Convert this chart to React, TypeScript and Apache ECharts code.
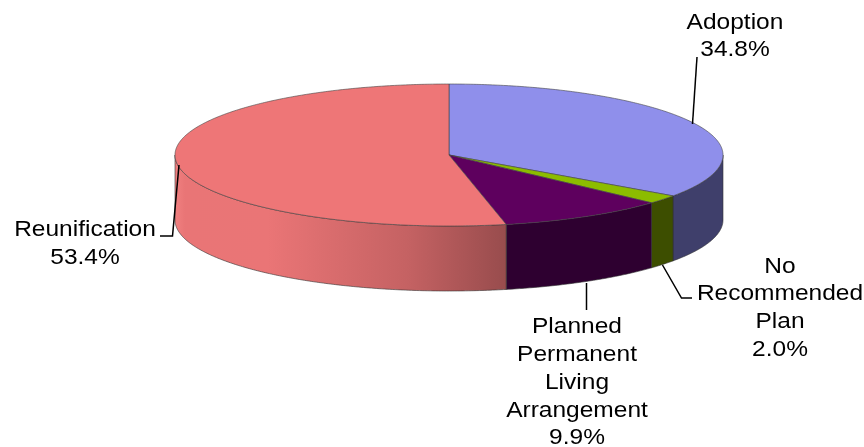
import React, { useEffect, useRef } from "react";
import * as echarts from "echarts";

const categories = ["Adoption", "No Recommended Plan", "Planned Permanent Living Arrangement", "Reunification"];
const values = [34.8, 2.0, 9.9, 53.4];
const labelLines = [["Adoption"], ["No", "Recommended", "Plan"], ["Planned", "Permanent", "Living", "Arrangement"], ["Reunification"]];
const topColors = ["#8F8FEB", "#8CBC00", "#5E005E", "#EE7677"];
const sideColors = ["#3F3F6B", "#3D4E00", "#2E0030", "#EE7677"];
const labelAnchors = [[735, 21], [780, 265], [577, 325.5], [85, 228.5]];
const leaders = [
  [[697, 57], [692.5, 124]],
  [[662.5, 265], [681.5, 298], [692, 298]],
  [[586.5, 283], [586.5, 310]],
  [[160, 236], [172.5, 236], [179, 165]],
];

const CX = 449, CY = 155, RX = 274, RY = 71, DEPTH = 65;
const FONT = '22.5px "Liberation Sans", Arial, sans-serif';
const LINE_H = 27.8;
const TEXT_STRETCH = 1.09;
const total = values.reduce((a, b) => a + b, 0);

function range(i: number): [number, number] {
  let s = 0;
  for (let k = 0; k < i; k++) s += values[k];
  return [(s / total) * Math.PI * 2, ((s + values[i]) / total) * Math.PI * 2];
}
function pt(t: number, dy = 0): number[] {
  return [CX + RX * Math.sin(t), CY - RY * Math.cos(t) + dy];
}
function arc(a: number, b: number, dy = 0): number[][] {
  const n = Math.max(2, Math.ceil((b - a) / 0.01));
  const out: number[][] = [];
  for (let i = 0; i <= n; i++) out.push(pt(a + ((b - a) * i) / n, dy));
  return out;
}

const renderSide = (params: any) => {
  const [a, b] = range(params.dataIndex);
  const s = Math.max(a, Math.PI / 2), e = Math.min(b, (Math.PI * 3) / 2);
  if (e <= s) return { type: "group", children: [] };
  const pts = [...arc(s, e), ...arc(s, e, DEPTH).reverse()];
  const isGrad = params.dataIndex === 3;
  return {
    type: "polygon",
    shape: { points: pts },
    style: {
      fill: isGrad
        ? new echarts.graphic.LinearGradient(0, 0, 1, 0, [
            { offset: 0, color: "#F08080" },
            { offset: 0.03, color: "#E97576" },
            { offset: 0.28, color: "#EA7576" },
            { offset: 0.7, color: "#C56263" },
            { offset: 1, color: "#984C4D" },
          ])
        : sideColors[params.dataIndex],
      stroke: "#333",
      lineWidth: 0.6,
    },
  };
};

const renderTop = (params: any) => {
  const [a, b] = range(params.dataIndex);
  return {
    type: "polygon",
    shape: { points: [[CX, CY], ...arc(a, b)] },
    style: { fill: topColors[params.dataIndex], stroke: "#444", lineWidth: 0.6 },
  };
};

const renderLabel = (params: any, api: any) => {
  const i = params.dataIndex;
  const lines = [...labelLines[i], api.value(0).toFixed(1) + "%"];
  return {
    type: "group",
    children: [
      {
        type: "polyline",
        shape: { points: leaders[i] },
        style: { fill: "none", stroke: "#000", lineWidth: 1.5 },
      },
      ...lines.map((text, k) => ({
        type: "text",
        x: labelAnchors[i][0],
        y: labelAnchors[i][1] + LINE_H * k,
        scaleX: TEXT_STRETCH,
        style: { text, font: FONT, fill: "#000", align: "center", verticalAlign: "middle", lineHeight: 18 },
      })),
    ],
  };
};

export default function App() {
  const ref = useRef<HTMLDivElement>(null);
  useEffect(() => {
    document.body.style.margin = "0";
    const chart = echarts.init(ref.current!, undefined, { renderer: "svg" });
    const data = categories.map((name, i) => ({ name, value: [values[i]] }));
    chart.setOption({
      animation: false,
      backgroundColor: "#fff",
      series: [
        { type: "custom", coordinateSystem: "none", renderItem: renderSide, data, z: 1, silent: true },
        { type: "custom", coordinateSystem: "none", renderItem: renderTop, data, z: 2, silent: true },
        { type: "custom", coordinateSystem: "none", renderItem: renderLabel, data, z: 3, silent: true },
      ],
    });
    return () => chart.dispose();
  }, []);
  return <div ref={ref} style={{ width: 864, height: 447, filter: "blur(0.35px)" }} />;
}
